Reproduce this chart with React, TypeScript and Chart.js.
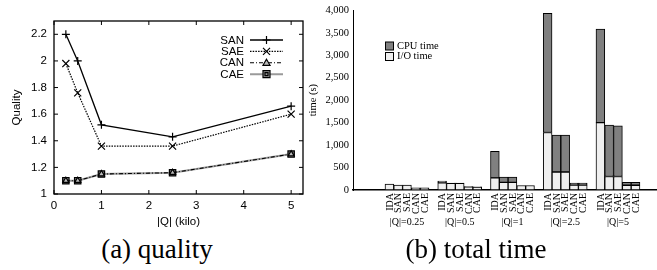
import React, { useEffect, useRef } from 'react';
import { Chart, registerables } from 'chart.js';

Chart.register(...registerables);

// ---------- (a) quality ----------
const qualityX = [0.25, 0.5, 1, 2.5, 5];
const sanValues = [2.2, 2.0, 1.52, 1.43, 1.66];
const saeValues = [1.98, 1.76, 1.36, 1.36, 1.6];
const canValues = [1.1, 1.1, 1.15, 1.16, 1.3];
const caeValues = [1.1, 1.1, 1.15, 1.16, 1.3];
const qualitySeriesNames = ['SAN', 'SAE', 'CAN', 'CAE'];
const qualityYTicks = [1, 1.2, 1.4, 1.6, 1.8, 2, 2.2];
const qualityXTicks = [0, 1, 2, 3, 4, 5];

// ---------- (b) total time ----------
const groupLabels = ['|Q|=0.25', '|Q|=0.5', '|Q|=1', '|Q|=2.5', '|Q|=5'];
const methodLabels = ['IDA', 'SAN', 'SAE', 'CAN', 'CAE'];
const ioTime = [
  [130, 110, 110, 10, 10],
  [160, 150, 150, 70, 65],
  [270, 170, 170, 100, 100],
  [1280, 400, 400, 110, 110],
  [1500, 300, 300, 105, 105],
];
const cpuTime = [
  [0, 0, 0, 40, 40],
  [40, 5, 5, 8, 8],
  [590, 120, 120, 0, 0],
  [2650, 820, 820, 45, 45],
  [2080, 1145, 1130, 65, 65],
];
const timeTicks = [0, 500, 1000, 1500, 2000, 2500, 3000, 3500, 4000];

const SANS = "'Liberation Sans', Arial, sans-serif";
const SERIF = "'Liberation Serif', 'Times New Roman', serif";

const seriesStyles = [
  { color: '#000', width: 1.3, dash: [] as number[], marker: 'cross' },
  { color: '#000', width: 1.2, dash: [1.5, 1.2], marker: 'crossRot' },
  { color: '#000', width: 1.1, dash: [4, 2, 1, 2], marker: 'triangle' },
  { color: '#9a9a9a', width: 2, dash: [] as number[], marker: 'rect' },
];

const barPos = (g: number, b: number) => g * 6 + b;

function drawMarker(ctx: CanvasRenderingContext2D, marker: string, x: number, y: number) {
  ctx.save();
  ctx.setLineDash([]);
  ctx.strokeStyle = '#000';
  ctx.lineWidth = 1.2;
  ctx.beginPath();
  if (marker === 'cross') {
    ctx.moveTo(x - 4, y); ctx.lineTo(x + 4, y);
    ctx.moveTo(x, y - 4); ctx.lineTo(x, y + 4);
    ctx.stroke();
  } else if (marker === 'crossRot') {
    ctx.moveTo(x - 3.5, y - 3.5); ctx.lineTo(x + 3.5, y + 3.5);
    ctx.moveTo(x + 3.5, y - 3.5); ctx.lineTo(x - 3.5, y + 3.5);
    ctx.stroke();
  } else if (marker === 'triangle') {
    ctx.moveTo(x, y - 3.5); ctx.lineTo(x + 3.5, y + 2.5); ctx.lineTo(x - 3.5, y + 2.5); ctx.closePath();
    ctx.fillStyle = '#bbb';
    ctx.fill();
    ctx.stroke();
  } else {
    ctx.rect(x - 3.5, y - 3.5, 7, 7);
    ctx.fillStyle = '#999';
    ctx.fill();
    ctx.stroke();
    ctx.beginPath();
    ctx.rect(x - 1.5, y - 1.5, 3, 3);
    ctx.stroke();
  }
  ctx.restore();
}

const qualityFramePlugin = {
  id: 'qualityFrame',
  afterDatasetsDraw(chart: any) {
    const { ctx, chartArea: a, scales } = chart;
    ctx.save();
    ctx.strokeStyle = '#000';
    ctx.lineWidth = 1.3;
    ctx.setLineDash([]);
    ctx.strokeRect(a.left, a.top, a.right - a.left, a.bottom - a.top);
    ctx.lineWidth = 1;
    const tl = 4;
    ctx.beginPath();
    for (const v of qualityYTicks) {
      const py = scales.y.getPixelForValue(v);
      ctx.moveTo(a.left, py); ctx.lineTo(a.left + tl, py);
      ctx.moveTo(a.right, py); ctx.lineTo(a.right - tl, py);
    }
    for (const v of qualityXTicks) {
      const px = scales.x.getPixelForValue(v);
      ctx.moveTo(px, a.bottom); ctx.lineTo(px, a.bottom - tl);
      ctx.moveTo(px, a.top); ctx.lineTo(px, a.top + tl);
    }
    ctx.stroke();

    // legend
    ctx.font = `11.5px ${SANS}`;
    ctx.fillStyle = '#000';
    ctx.textAlign = 'right';
    ctx.textBaseline = 'middle';
    qualitySeriesNames.forEach((name, i) => {
      const y = 40 + i * 11.4;
      const st = seriesStyles[i];
      ctx.fillText(name, 244, y + 0.5);
      ctx.save();
      ctx.strokeStyle = st.color;
      ctx.lineWidth = st.width;
      ctx.setLineDash(st.dash);
      ctx.beginPath();
      ctx.moveTo(250, y); ctx.lineTo(283, y);
      ctx.stroke();
      ctx.restore();
      drawMarker(ctx, st.marker, 266.5, y);
    });
    ctx.restore();
  },
};

const timeLabelsPlugin = {
  id: 'timeLabels',
  afterDraw(chart: any) {
    const { ctx, chartArea: a } = chart;
    const xs = chart.scales.x;
    ctx.save();
    // legend
    const items = [
      { label: 'CPU time', color: '#808080' },
      { label: 'I/O time', color: '#efefef' },
    ];
    ctx.font = `10.5px ${SERIF}`;
    ctx.textAlign = 'left';
    ctx.textBaseline = 'middle';
    items.forEach((it, i) => {
      const y = 46 + i * 10.5;
      ctx.fillStyle = it.color;
      ctx.fillRect(85.5, y - 4, 8, 8);
      ctx.strokeStyle = '#000';
      ctx.lineWidth = 1;
      ctx.strokeRect(85.5, y - 4, 8, 8);
      ctx.fillStyle = '#000';
      ctx.fillText(it.label, 97, y);
    });
    // method labels, rotated
    ctx.fillStyle = '#000';
    ctx.font = `10px ${SERIF}`;
    groupLabels.forEach((gl, g) => {
      methodLabels.forEach((ml, b) => {
        const px = xs.getPixelForValue(barPos(g, b));
        ctx.save();
        ctx.translate(px + 0.5, a.bottom + 3);
        ctx.rotate(-Math.PI / 2);
        ctx.textAlign = 'right';
        ctx.textBaseline = 'middle';
        ctx.fillText(ml, 0, 0);
        ctx.restore();
      });
      const cx = xs.getPixelForValue(barPos(g, 2));
      ctx.textAlign = 'center';
      ctx.textBaseline = 'middle';
      ctx.font = `10px ${SERIF}`;
      ctx.fillText(gl, cx, a.bottom + 32);
    });
    ctx.restore();
  },
};

function QualityChart() {
  const ref = useRef<HTMLCanvasElement>(null);
  useEffect(() => {
    const mk = (vals: number[]) => qualityX.map((x, i) => ({ x, y: vals[i] }));
    const all = [sanValues, saeValues, canValues, caeValues];
    const datasets = all.map((vals, i) => {
      const st = seriesStyles[i];
      const base: any = {
        label: qualitySeriesNames[i],
        data: mk(vals),
        borderColor: st.color,
        borderWidth: st.width,
        borderDash: st.dash,
        pointStyle: st.marker,
        pointBorderColor: '#000',
        pointBorderWidth: 1.2,
        pointBackgroundColor: '#000',
        pointRadius: 4,
        tension: 0,
        fill: false,
      };
      if (st.marker === 'crossRot') base.pointRadius = 5;
      if (st.marker === 'triangle') { base.pointRadius = 3.5; base.pointBackgroundColor = '#bbb'; }
      if (st.marker === 'rect') { base.pointRadius = 4.5; base.pointBackgroundColor = '#777'; }
      return base;
    });
    const chart = new Chart(ref.current!, {
      type: 'line',
      data: { datasets },
      plugins: [qualityFramePlugin],
      options: {
        animation: false,
        responsive: false,
        devicePixelRatio: 1,
        layout: { padding: { left: 0, top: 21, right: 27, bottom: 0 } },
        plugins: { legend: { display: false }, tooltip: { enabled: false } },
        scales: {
          x: {
            type: 'linear',
            min: 0,
            max: 5.25,
            grid: { display: false, drawTicks: false },
            border: { display: false },
            ticks: {
              padding: 5,
              color: '#000',
              font: { family: SANS, size: 11.5 },
              callback: (v: any) => String(v),
            },
            afterBuildTicks: (s: any) => { s.ticks = qualityXTicks.map((v) => ({ value: v })); },
            title: {
              display: true,
              text: '|Q| (kilo)',
              color: '#000',
              font: { family: SANS, size: 11.5 },
              padding: { top: 0, bottom: 3 },
            },
            afterFit: (s: any) => { s.height = 38; },
          },
          y: {
            type: 'linear',
            min: 1,
            max: 2.3,
            grid: { display: false, drawTicks: false },
            border: { display: false },
            ticks: {
              padding: 7,
              color: '#000',
              font: { family: SANS, size: 11.5 },
              callback: (v: any) => String(Math.round(Number(v) * 10) / 10),
            },
            afterBuildTicks: (s: any) => { s.ticks = qualityYTicks.map((v) => ({ value: v })); },
            title: {
              display: true,
              text: 'Quality',
              color: '#000',
              font: { family: SANS, size: 11.5 },
              padding: { top: 10, bottom: 0 },
            },
            afterFit: (s: any) => { s.width = 54; },
          },
        },
      } as any,
    });
    return () => chart.destroy();
  }, []);
  return <canvas ref={ref} width={330} height={232} style={{ display: 'block', width: 330, height: 232 }} />;
}

function TimeChart() {
  const ref = useRef<HTMLCanvasElement>(null);
  useEffect(() => {
    const positions: number[] = [];
    const ioPts: any[] = [];
    const cpuPts: any[] = [];
    groupLabels.forEach((_, g) => {
      methodLabels.forEach((__, b) => {
        const x = barPos(g, b);
        positions.push(x);
        ioPts.push({ x, y: ioTime[g][b] });
        cpuPts.push({ x, y: cpuTime[g][b] });
      });
    });
    const chart = new Chart(ref.current!, {
      type: 'bar',
      data: {
        datasets: [
          {
            label: 'I/O time',
            data: ioPts,
            backgroundColor: '#efefef',
            borderColor: '#000',
            borderWidth: 1,
            borderSkipped: false,
            categoryPercentage: 1,
            barPercentage: 1,
          },
          {
            label: 'CPU time',
            data: cpuPts,
            backgroundColor: '#808080',
            borderColor: '#000',
            borderWidth: 1,
            borderSkipped: false,
            categoryPercentage: 1,
            barPercentage: 1,
          },
        ],
      },
      plugins: [timeLabelsPlugin],
      options: {
        animation: false,
        responsive: false,
        devicePixelRatio: 1,
        layout: { padding: { left: 0, top: 7, right: 0, bottom: 0 } },
        plugins: { legend: { display: false }, tooltip: { enabled: false } },
        scales: {
          x: {
            type: 'linear',
            stacked: true,
            offset: false,
            min: -4.14,
            max: 30.44,
            grid: { display: false, drawTicks: false },
            border: { display: true, color: '#000', width: 1.5 },
            ticks: { display: false },
            afterBuildTicks: (s: any) => { s.ticks = positions.map((v) => ({ value: v })); },
            afterFit: (s: any) => { s.height = 42; },
          },
          y: {
            type: 'linear',
            stacked: true,
            min: 0,
            max: 4000,
            grid: { display: false, drawTicks: false },
            border: { display: true, color: '#000', width: 1 },
            ticks: {
              padding: 4,
              color: '#000',
              font: { family: SERIF, size: 10.5 },
              callback: (v: any) => Number(v).toLocaleString('en-US'),
            },
            afterBuildTicks: (s: any) => { s.ticks = timeTicks.map((v) => ({ value: v })); },
            title: {
              display: true,
              text: 'time (s)',
              color: '#000',
              font: { family: SERIF, size: 10.5 },
              padding: { top: 7, bottom: 0 },
            },
            afterFit: (s: any) => { s.width = 53; },
          },
        },
      } as any,
    });
    return () => chart.destroy();
  }, []);
  return <canvas ref={ref} width={357} height={232} style={{ display: 'block', width: 357, height: 232 }} />;
}

const captionStyle: React.CSSProperties = {
  position: 'absolute',
  top: 236,
  width: 220,
  height: 27,
  lineHeight: '27px',
  fontSize: 27,
  fontFamily: SERIF,
  textAlign: 'center',
  color: '#000',
  whiteSpace: 'nowrap',
};

export default function App() {
  return (
    <div style={{ position: 'absolute', left: 0, top: 0, width: 657, height: 270, background: '#fff', overflow: 'hidden' }}>
      <div style={{ position: 'absolute', left: 0, top: 0 }}>
        <QualityChart />
      </div>
      <div style={{ position: 'absolute', left: 300, top: 0 }}>
        <TimeChart />
      </div>
      <div style={{ ...captionStyle, left: 157 - 110 }}>(a) quality</div>
      <div style={{ ...captionStyle, left: 476 - 110 }}>(b) total time</div>
    </div>
  );
}
